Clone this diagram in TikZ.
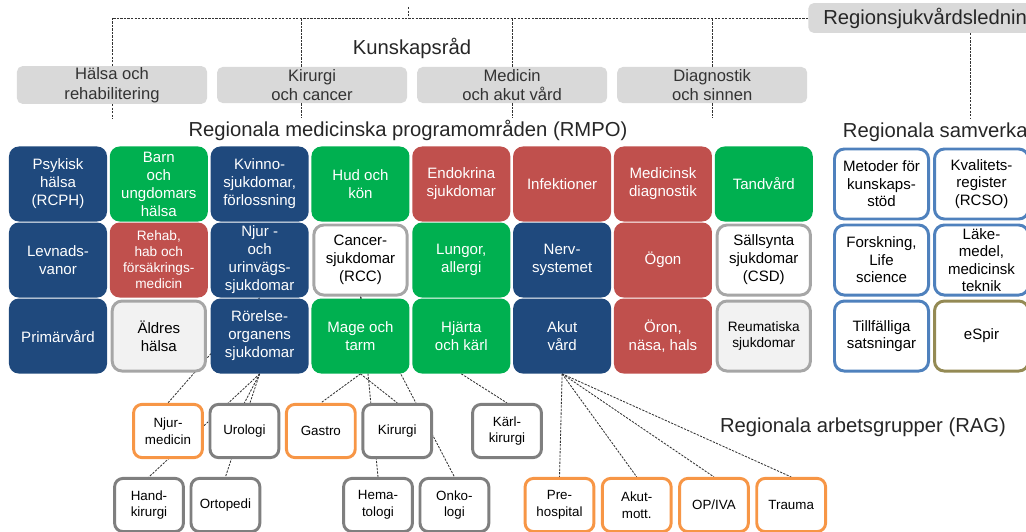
\documentclass[tikz,border=0pt]{standalone}
\usepackage{fontspec}
\setmainfont{Liberation Sans}
\usetikzlibrary{positioning}

\definecolor{rmpoblue}{HTML}{1F497D}
\definecolor{rmpogreen}{HTML}{00B050}
\definecolor{rmpored}{HTML}{C0504D}
\definecolor{krgray}{HTML}{D9D9D9}
\definecolor{framegray}{HTML}{A6A6A6}
\definecolor{lightfill}{HTML}{F2F2F2}
\definecolor{raggray}{HTML}{7F7F7F}
\definecolor{ragorange}{HTML}{F79646}
\definecolor{rsoblue}{HTML}{4F81BD}
\definecolor{espirolive}{HTML}{948A54}

\pgfdeclarelayer{background}
\pgfsetlayers{background,main}

\begin{document}
\begin{tikzpicture}[x=0.025cm,y=-0.025cm,node distance=2.52cm,
    tree/.style={draw=black!80,line width=0.6pt,dash pattern=on 1.6pt off 0.9pt},
    title/.style={font=\fontsize{14.4}{16}\selectfont,text=black!85},
    kr/.style={fill=krgray,rounded corners=4pt,minimum width=4.75cm,minimum height=0.9cm,
        align=center,inner sep=1pt,font=\fontsize{11.8}{13.9}\selectfont,text=black!80},
    rmpo/.style={rounded corners=7pt,minimum width=2.45cm,minimum height=1.875cm,
        align=center,inner sep=1pt,font=\fontsize{10.7}{12.8}\selectfont,text=white},
    rblue/.style={rmpo,fill=rmpoblue},
    rgreen/.style={rmpo,fill=rmpogreen},
    rred/.style={rmpo,fill=rmpored},
    rframe/.style={rmpo,draw=framegray,line width=2.1pt,fill=white,text=black,
        minimum width=2.33cm,minimum height=1.75cm},
    rlight/.style={rframe,fill=lightfill},
    small/.style={font=\fontsize{9.7}{11.4}\selectfont},
    rso/.style={rmpo,draw=rsoblue,line width=2.1pt,fill=white,text=black,
        minimum width=2.35cm,minimum height=1.75cm,font=\fontsize{10.7}{12.4}\selectfont},
    rag/.style={rounded corners=6pt,draw=raggray,line width=2.1pt,fill=white,
        minimum width=1.72cm,minimum height=1.33cm,align=center,inner sep=1pt,
        font=\fontsize{9.5}{12}\selectfont},
    ragor/.style={rag,draw=ragorange}]

    \useasboundingbox (0,0) rectangle (1026,532);
    \clip (0,0) rectangle (1026,532);

    % top level
    \node[title,fill=krgray,rounded corners=4pt,anchor=west,minimum height=0.675cm,
        inner xsep=0.375cm] (rsl) at (808,18) {Regionsjukvårdsledning};
    \coordinate (stub) at (408,7);

    % kunskapsråd
    \node[title] (krtitle) at (412,48) {Kunskapsråd};
    \node[kr] (halsa) at (112,85) {Hälsa och\\rehabilitering};
    \node[kr] (kircan) [right of=halsa,node distance=5cm] {Kirurgi\\och cancer};
    \node[kr] (medakut) [right of=kircan,node distance=5cm] {Medicin\\och akut vård};
    \node[kr] (diagsinn) [right of=medakut,node distance=5cm] {Diagnostik\\och sinnen};

    % RMPO
    \node[title] (rmpotitle) at (408,130) {Regionala medicinska programområden (RMPO)};

    \node[rblue] (psyk) at (58,184) {Psykisk\\hälsa\\(RCPH)};
    \node[rgreen] (barn) [right of=psyk] {Barn\\och\\ungdomars\\hälsa};
    \node[rblue] (kvinno) [right of=barn] {Kvinno-\\sjukdomar,\\förlossning};
    \node[rgreen] (hud) [right of=kvinno] {Hud och\\kön};
    \node[rred] (endo) [right of=hud] {Endokrina\\sjukdomar};
    \node[rred] (infek) [right of=endo] {Infektioner};
    \node[rred] (meddiag) [right of=infek] {Medicinsk\\diagnostik};
    \node[rgreen] (tand) [right of=meddiag] {Tandvård};

    \node[rblue] (levnad) [below of=psyk,node distance=1.9cm] {Levnads-\\vanor};
    \node[rred,small] (rehab) [right of=levnad] {Rehab,\\hab och\\försäkrings-\\medicin};
    \node[rblue] (njururin) [right of=rehab] {Njur -\\och\\urinvägs-\\sjukdomar};
    \node[rframe] (cancer) [right of=njururin] {Cancer-\\sjukdomar\\(RCC)};
    \node[rgreen] (lungor) [right of=cancer] {Lungor,\\allergi};
    \node[rblue] (nerv) [right of=lungor] {Nerv-\\systemet};
    \node[rred] (ogon) [right of=nerv] {Ögon};
    \node[rframe] (sallsynta) [right of=ogon] {Sällsynta\\sjukdomar\\(CSD)};

    \node[rblue] (primar) [below of=levnad,node distance=1.9cm] {Primärvård};
    \node[rlight] (aldres) [right of=primar] {Äldres\\hälsa};
    \node[rblue] (rorelse) [right of=aldres] {Rörelse-\\organens\\sjukdomar};
    \node[rgreen] (mage) [right of=rorelse] {Mage och\\tarm};
    \node[rgreen] (hjarta) [right of=mage] {Hjärta\\och kärl};
    \node[rblue] (akut) [right of=hjarta] {Akut\\vård};
    \node[rred] (oron) [right of=akut] {Öron,\\näsa, hals};
    \node[rlight,small] (reuma) [right of=oron] {Reumatiska\\sjukdomar};

    % samverkan
    \node[title,anchor=west] (rsotitle) at (838,131) {Regionala samverkansområden};
    \node[rso] (metoder) at (881.5,184) {Metoder för\\kunskaps-\\stöd};
    \node[rso] (kval) [right of=metoder,node distance=2.5cm] {Kvalitets-\\register\\(RCSO)};
    \node[rso] (forsk) [below of=metoder,node distance=1.9cm] {Forskning,\\Life\\science};
    \node[rso] (lake) [right of=forsk,node distance=2.5cm] {Läke-\\medel,\\medicinsk\\teknik};
    \node[rso] (tillf) [below of=forsk,node distance=1.9cm] {Tillfälliga\\satsningar};
    \node[rso,draw=espirolive] (espir) [right of=tillf,node distance=2.5cm] {eSpir};

    % RAG
    \node[title] (ragtitle) at (863,427) {Regionala arbetsgrupper (RAG)};
    \node[ragor] (njurmed) at (168,431) {Njur-\\medicin};
    \node[rag] (urologi) [right of=njurmed,node distance=1.91cm] {Urologi};
    \node[ragor] (gastro) [right of=urologi,node distance=1.91cm] {Gastro};
    \node[rag] (kirurgi) [right of=gastro,node distance=1.91cm] {Kirurgi};
    \node[rag] (karl) at (507,431) {Kärl-\\kirurgi};
    \node[rag] (hand) at (149,505) {Hand-\\kirurgi};
    \node[rag] (ortopedi) [right of=hand,node distance=1.91cm] {Ortopedi};
    \node[rag] (hema) at (378,505) {Hema-\\tologi};
    \node[rag] (onko) [right of=hema,node distance=1.91cm] {Onko-\\logi};
    \node[ragor] (prehosp) at (559.5,505) {Pre-\\hospital};
    \node[ragor] (akutmott) [right of=prehosp,node distance=1.93cm] {Akut-\\mott.};
    \node[ragor] (opiva) [right of=akutmott,node distance=1.93cm] {OP/IVA};
    \node[ragor] (trauma) [right of=opiva,node distance=1.93cm] {Trauma};

    % dashed tree
    \draw[tree] (stub) -- (stub |- rsl.west);
    \draw[tree] (halsa.north) |- (rsl.west);
    \draw[tree] ([xshift=-0.275cm]kircan.north) -- ([xshift=-0.275cm]kircan.north |- rsl.west);
    \draw[tree] (medakut.north) -- (medakut.north |- rsl.west);
    \draw[tree] (diagsinn.north) -- (diagsinn.north |- rsl.west);
    \draw[tree] (halsa.south) -- ++(0,15);
    \draw[tree] ([xshift=-0.275cm]kircan.south) -- ++(0,15);
    \draw[tree] (medakut.south) -- ++(0,15);
    \draw[tree] (diagsinn.south) -- ++(0,15);
    \draw[tree] ([xshift=4.05cm]rsl.south west) -- ++(0,85);

    \begin{pgfonlayer}{background}
    \path[every edge/.style={tree}]
    (njururin.south) edge (njurmed.north)
    (rorelse.south)  edge (hand.north)
                     edge (ortopedi.north)
                     edge (urologi.north)
    (mage.south)     edge (gastro.north)
                     edge (kirurgi.north)
    (cancer.south)   edge (hema.north)
                     edge (onko.north)
    (hjarta.south)   edge (karl.north)
    (akut.south)     edge (prehosp.north)
                     edge (akutmott.north)
                     edge (opiva.north)
                     edge (trauma.north)
    ;
    \end{pgfonlayer}
\end{tikzpicture}
\end{document}
